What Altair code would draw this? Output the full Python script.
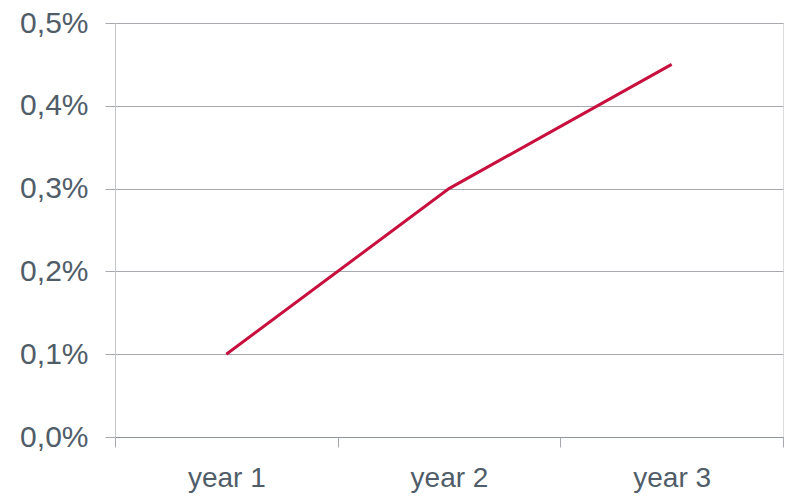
import altair as alt
import pandas as pd

categories = ["year 1", "year 2", "year 3"]
values = [0.10, 0.30, 0.45]
y_ticks = [0.0, 0.1, 0.2, 0.3, 0.4, 0.5]

df = pd.DataFrame({"year": categories, "value": values})

label_color = "#505d69"
grid_color = "#a6aaae"

chart = alt.Chart(df).mark_line(color="#c8103e", strokeWidth=3).encode(
    x=alt.X("year:N", sort=categories,
            scale=alt.Scale(type="band", paddingInner=0, paddingOuter=0),
            axis=alt.Axis(title=None, labelAngle=0, tickBand="extent",
                          labelFont="Liberation Sans", labelFontSize=28,
                          labelColor=label_color, labelPadding=17,
                          tickSize=10, tickColor=grid_color, domainColor="#8c949c",
                          grid=False)),
    y=alt.Y("value:Q", scale=alt.Scale(domain=[0, 0.5], nice=False),
            axis=alt.Axis(title=None, values=y_ticks,
                          labelExpr="replace(format(datum.value, '.1f'), '.', ',') + '%'",
                          labelFont="Liberation Sans", labelFontSize=30,
                          labelColor=label_color, labelPadding=17,
                          tickSize=10, tickColor=grid_color, domainColor="#c4c7ca",
                          grid=True, gridColor=grid_color)),
).properties(
    width=668, height=414,
    autosize=alt.AutoSizeParams(type="none"),
    padding={"left": 115, "top": 23, "right": 4, "bottom": 61},
).configure_view(stroke=None).configure(background="white")

chart.save("out.html", embed_options={"renderer": "svg", "actions": False})
